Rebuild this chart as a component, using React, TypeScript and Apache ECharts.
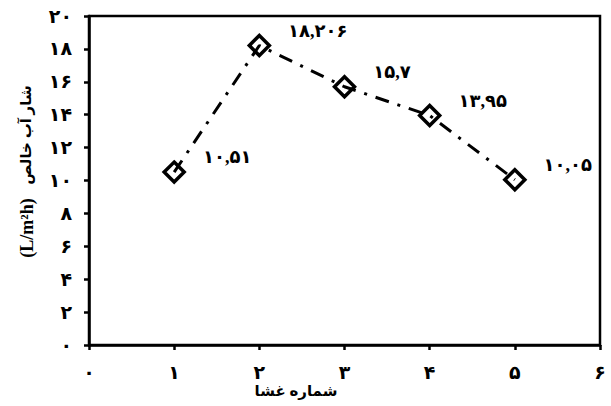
import React, { useEffect, useRef } from "react";
import * as echarts from "echarts";

const membranes = [1, 2, 3, 4, 5];
const fluxValues = [10.51, 18.206, 15.7, 13.95, 10.05];
const xTitle = "شماره غشا";
const yTitleFa = "شار آب خالص";
const yTitleUnit = "(L/m²h)";

const FA_DIGITS = ["۰", "۱", "۲", "۳", "۴", "۵", "۶", "۷", "۸", "۹"];
const toFa = (v: number) =>
  String(v)
    .replace(".", ",")
    .replace(/[0-9]/g, (d) => FA_DIGITS[Number(d)]);

const FONT = '"Liberation Serif", "DejaVu Sans", serif';

export default function App() {
  const ref = useRef<HTMLDivElement>(null);
  useEffect(() => {
    if (!ref.current) return;
    const chart = echarts.init(ref.current, null, { renderer: "svg" });
    chart.setOption({
      animation: false,
      backgroundColor: "#fff",
      grid: { left: 89, right: 11, top: 16, bottom: 61, show: true, borderColor: "#000", borderWidth: 2.5 },
      xAxis: {
        type: "value",
        min: 0,
        max: 6,
        interval: 1,
        splitLine: { show: false },
        axisLine: { show: true, onZero: false, lineStyle: { color: "#000", width: 2.5 } },
        axisTick: { show: true, inside: false, length: 5, lineStyle: { color: "#000", width: 2.5 } },
        axisLabel: {
          margin: 18,
          color: "#000",
          fontFamily: FONT,
          fontWeight: "bold",
          fontSize: 19,
          formatter: (v: number) => toFa(v),
        },
      },
      yAxis: {
        type: "value",
        min: 0,
        max: 20,
        interval: 2,
        splitLine: { show: false },
        axisLine: { show: true, lineStyle: { color: "#000", width: 2.5 } },
        axisTick: { show: true, inside: false, length: 5, lineStyle: { color: "#000", width: 2.5 } },
        axisLabel: {
          margin: 17,
          color: "#000",
          fontFamily: FONT,
          fontWeight: "bold",
          fontSize: 19,
          formatter: (v: number) => toFa(v),
        },
      },
      graphic: [
        {
          type: "text",
          x: 296,
          y: 391,
          style: {
            text: xTitle,
            fontFamily: FONT,
            fontWeight: "bold",
            fontSize: 15,
            fill: "#000",
            align: "center",
            verticalAlign: "middle",
          },
        },
        {
          type: "text",
          x: 26,
          y: 135,
          rotation: Math.PI / 2,
          style: {
            text: yTitleFa,
            fontFamily: FONT,
            fontWeight: "bold",
            fontSize: 15,
            fill: "#000",
            align: "center",
            verticalAlign: "middle",
          },
        },
        {
          type: "text",
          x: 27,
          y: 228,
          rotation: Math.PI / 2,
          style: {
            text: yTitleUnit,
            fontFamily: FONT,
            fontWeight: "bold",
            fontSize: 18,
            fill: "#000",
            align: "center",
            verticalAlign: "middle",
          },
        },
      ],
      series: [
        {
          type: "line",
          data: membranes.map((m, i) => [m, fluxValues[i]]),
          symbol: "diamond",
          symbolSize: 20,
          lineStyle: { color: "#000", width: 3, type: [14, 9, 3, 9] },
          itemStyle: { color: "rgba(255,255,255,0)", borderColor: "#000", borderWidth: 3.5 },
          label: {
            show: true,
            position: "right",
            distance: 17,
            offset: [0, -15],
            color: "#000",
            fontFamily: FONT,
            fontWeight: "bold",
            fontSize: 18,
            formatter: (p: any) => toFa(p.value[1]),
          },
        },
      ],
    });
    return () => chart.dispose();
  }, []);
  return <div ref={ref} style={{ width: 611, height: 406, position: "absolute", left: 0, top: 0 }} />;
}
